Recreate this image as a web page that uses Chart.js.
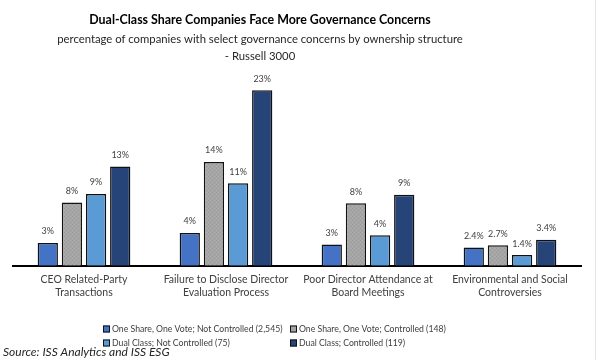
<!DOCTYPE html>
<html>
<head>
<meta charset="utf-8">
<script src="https://cdn.jsdelivr.net/npm/chart.js@4.4.1/dist/chart.umd.min.js"></script>
<style>
  html, body { margin: 0; padding: 0; background: #ffffff; }
  #wrap { position: relative; width: 597px; height: 360px; }
</style>
</head>
<body>
<div id="wrap"><canvas id="c" width="597" height="360"></canvas></div>
<script>
const categories = [
  ["CEO Related-Party", "Transactions"],
  ["Failure to Disclose Director", "Evaluation Process"],
  ["Poor Director Attendance at", "Board Meetings"],
  ["Environmental and Social", "Controversies"]
];
const seriesNames = [
  "One Share, One Vote; Not Controlled (2,545)",
  "One Share, One Vote; Controlled (148)",
  "Dual Class; Not Controlled (75)",
  "Dual Class; Controlled (119)"
];
const oneShareNotControlled = [3.0, 4.3, 2.8, 2.4];
const oneShareControlled    = [8.3, 13.6, 8.2, 2.7];
const dualNotControlled     = [9.4, 10.8, 4.0, 1.4];
const dualControlled        = [13.0, 23.0, 9.3, 3.4];
const labelsOneShareNotControlled = ["3%", "4%", "3%", "2.4%"];
const labelsOneShareControlled    = ["8%", "14%", "8%", "2.7%"];
const labelsDualNotControlled     = ["9%", "11%", "4%", "1.4%"];
const labelsDualControlled        = ["13%", "23%", "9%", "3.4%"];
const titleText = "Dual-Class Share Companies Face More Governance Concerns";
const subtitleLines = ["percentage of companies with select governance concerns by ownership structure", "- Russell 3000"];
const sourceText = "Source: ISS Analytics and ISS ESG";

const colors = ["#4472C4", "#A5A5A5", "#5B9BD5", "#264478"];
const FONT = "Lato, 'Open Sans', sans-serif";

// subtle stipple texture for the grey series
function makeGreyPattern() {
  const pc = document.createElement('canvas');
  pc.width = 4; pc.height = 4;
  const p = pc.getContext('2d');
  p.fillStyle = "#A5A5A5";
  p.fillRect(0, 0, 4, 4);
  p.fillStyle = "#999999";
  p.fillRect(0, 0, 1, 1);
  p.fillRect(2, 2, 1, 1);
  p.fillStyle = "#B0B0B0";
  p.fillRect(2, 0, 1, 1);
  p.fillRect(0, 2, 1, 1);
  return document.getElementById('c').getContext('2d').createPattern(pc, 'repeat');
}
const greyPattern = makeGreyPattern();

const seriesValues = [oneShareNotControlled, oneShareControlled, dualNotControlled, dualControlled];
const seriesLabels = [labelsOneShareNotControlled, labelsOneShareControlled, labelsDualNotControlled, labelsDualControlled];

const datasets = seriesValues.map((vals, i) => ({
  label: seriesNames[i],
  data: vals,
  valueLabels: seriesLabels[i],
  swatch: colors[i],
  backgroundColor: i === 1 ? greyPattern : colors[i],
  borderColor: "#111111",
  borderWidth: 1.5,
  categoryPercentage: 0.68,
  barPercentage: 0.84
}));

const decorPlugin = {
  id: 'decor',
  afterDatasetsDraw(chart) {
    const ctx = chart.ctx;
    ctx.save();
    ctx.font = "9px " + FONT;
    ctx.fillStyle = "#404040";
    ctx.textAlign = "center";
    ctx.textBaseline = "bottom";
    chart.data.datasets.forEach((ds, di) => {
      const meta = chart.getDatasetMeta(di);
      meta.data.forEach((bar, idx) => {
        ctx.fillText(ds.valueLabels[idx], bar.x, bar.y - 7);
      });
    });
    ctx.restore();
  },
  afterDraw(chart) {
    const ctx = chart.ctx;
    ctx.save();
    ctx.textAlign = "center";
    ctx.textBaseline = "middle";
    ctx.fillStyle = "#000000";
    ctx.font = "bold 12.4px " + FONT;
    ctx.fillText(titleText, 260, 20);
    ctx.font = "11.3px " + FONT;
    ctx.fillStyle = "#262626";
    ctx.fillText(subtitleLines[0], 260, 39);
    ctx.fillText(subtitleLines[1], 260, 56);
    ctx.font = "8.7px " + FONT;
    ctx.textAlign = "left";
    const colX = [103, 290];
    const rowY = [329, 343];
    chart.data.datasets.forEach((ds, i) => {
      const x = colX[i % 2];
      const y = rowY[Math.floor(i / 2)];
      ctx.fillStyle = ds.swatch;
      ctx.fillRect(x, y - 3.5, 7, 7);
      ctx.strokeStyle = "#111111";
      ctx.lineWidth = 1;
      ctx.strokeRect(x + 0.5, y - 3, 6, 6);
      ctx.fillStyle = "#404040";
      ctx.fillText(ds.label, x + 9, y);
    });
    ctx.font = "italic 12px " + FONT;
    ctx.fillStyle = "#262626";
    ctx.fillText(sourceText, 3, 352);
    ctx.strokeStyle = "#e6e6e6";
    ctx.beginPath();
    ctx.moveTo(595.5, 0);
    ctx.lineTo(595.5, 360);
    ctx.stroke();
    ctx.restore();
  }
};

new Chart(document.getElementById('c'), {
  type: 'bar',
  data: { labels: categories, datasets: datasets },
  options: {
    responsive: false,
    animation: false,
    layout: { padding: { top: 75, left: 13, right: 16, bottom: 53 } },
    plugins: {
      legend: { display: false },
      title: { display: false },
      tooltip: { enabled: false }
    },
    scales: {
      x: {
        grid: { display: false, drawTicks: false },
        border: { display: true, color: "#000000", width: 2 },
        ticks: { color: "#404040", font: { family: FONT, size: 10.5 }, padding: 8, maxRotation: 0, autoSkip: false }
      },
      y: {
        display: false,
        min: 0,
        max: 25
      }
    }
  },
  plugins: [decorPlugin]
});
</script>
</body>
</html>
